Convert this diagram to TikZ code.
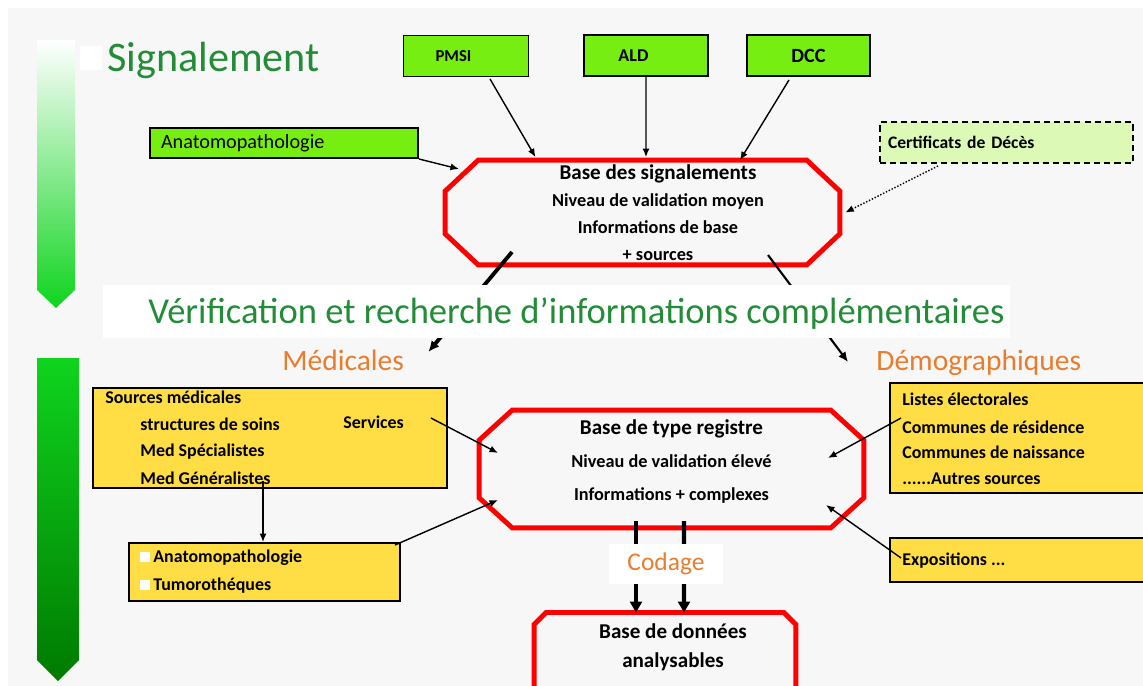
\documentclass[tikz,border=0pt]{standalone}
\usepackage{fontspec}
\setmainfont{Carlito}
\usetikzlibrary{calc,arrows.meta}

\definecolor{titlegreen}{RGB}{35,140,55}
\definecolor{srcgreen}{RGB}{118,238,18}
\definecolor{palegreen}{RGB}{220,250,182}
\definecolor{boxyellow}{RGB}{255,221,68}
\definecolor{labelorange}{RGB}{232,125,45}
\definecolor{arrowgreen}{RGB}{15,212,30}
\definecolor{midgreen}{RGB}{0,138,0}
\definecolor{darkarrow}{RGB}{0,122,0}
\definecolor{backgray}{RGB}{247,247,247}

\tikzset{
  srcbox/.style={draw=black,line width=1.1pt,fill=srcgreen,inner sep=0pt,font=\bfseries\fontsize{9.5}{11}\selectfont},
  octo/.style={inner sep=0pt},
  octoline/.style={draw=red,line width=2.8pt,line join=miter},
  yelbox/.style={draw=black,line width=1.1pt,fill=boxyellow,inner sep=0pt},
  itemtxt/.style={anchor=west,inner sep=0pt,font=\bfseries\fontsize{10.2}{12}\selectfont},
  basetxt/.style={align=center,inner sep=0pt,font=\bfseries\fontsize{10.4}{15.4}\selectfont},
  conn/.style={line width=0.8pt,-{Latex[length=1.7mm,width=1.4mm]}},
  headtxt/.style={anchor=base west,inner sep=0pt,text=titlegreen},
  subtxt/.style={anchor=base west,inner sep=0pt,text=labelorange,font=\fontsize{16.8}{19}\selectfont},
}

% red border with cut corners round a named node
\newcommand{\cutcorners}[3]{%
  \draw[octoline] ($(#1.north west)+(#2,0)$) -- ($(#1.north east)+(-#2,0)$)
    -- ($(#1.north east)+(0,#3)$) -- ($(#1.south east)+(0,-#3)$)
    -- ($(#1.south east)+(-#2,0)$) -- ($(#1.south west)+(#2,0)$)
    -- ($(#1.south west)+(0,-#3)$) -- ($(#1.north west)+(0,#3)$) -- cycle;}

\begin{document}
\begin{tikzpicture}[x=0.02cm,y=-0.02cm]
\useasboundingbox (0,0) rectangle (1143,686);
% background
\fill[backgray] (8,8) rectangle (1143,686);
\fill[white] (80,46) rectangle (102,70);
% the two green arrows on the left
\shade[top color=white,bottom color=arrowgreen] (37,40) -- (75,40) -- (75,290) -- (56,308) -- (37,290) -- cycle;
\shade[top color=arrowgreen,middle color=midgreen,bottom color=darkarrow] (37,358) -- (79,358) -- (79,660) -- (58,681) -- (37,660) -- cycle;

\node[headtxt,font=\fontsize{24}{28}\selectfont] (signal) at (107,72) {Signalement};

% sources
\node[srcbox,minimum width=2.5cm,minimum height=0.82cm] (pmsi) at (466,56) {PMSI\hspace*{0.5cm}};
\node[srcbox,minimum width=2.48cm,minimum height=0.82cm,font=\bfseries\fontsize{10.3}{12}\selectfont] (ald) at (646,55.5) {ALD\hspace*{0.5cm}};
\node[srcbox,minimum width=2.46cm,minimum height=0.82cm,font=\bfseries\fontsize{11.5}{13}\selectfont] (dcc) at (808.5,55.5) {DCC};
\node[srcbox,font=\fontsize{11.5}{13}\selectfont,text width=4.92cm,inner xsep=0.22cm,minimum height=0.6cm,align=left] (anat) at (284,143) {Anatomopathologie};
\node[srcbox,fill=palegreen,dash pattern=on 3.5pt off 2.3pt,font=\bfseries\fontsize{10}{12}\selectfont,text width=4.74cm,inner xsep=0.16cm,minimum height=0.82cm,align=left] (cert) at (1006.5,142.5) {Certificats de Décès};

% base des signalements
\node[octo,minimum width=7.88cm,minimum height=2.08cm] (sigbase) at (642.5,212.5) {};
\cutcorners{sigbase}{33}{31}
\node[basetxt] (sigtxt) at (658,212.5) {{\fontsize{12}{15.4}\selectfont Base des signalements}\\Niveau de validation moyen\\Informations de base\\+ sources};

\draw[conn] ($(pmsi.south)+(24,1.5)$) -- ($(sigbase.north)+(-107,-3)$);
\draw[conn] (ald.south) -- ($(sigbase.north)+(3.5,-3)$);
\draw[conn] ($(dcc.south)+(-19.5,3)$) -- ($(sigbase.north)+(97.5,0)$);
\draw[conn] (anat.south east) -- ($(sigbase)+(-183.5,-43.5)$);
\draw[conn,densely dotted] ($(cert.south)+(-68.5,2)$) -- ($(sigbase.east)+(5.5,0)$);

\node[subtxt] (medicales) at (282,370) {Médicales};
\node[subtxt] (demo) at (876,370) {Démographiques};

\draw[line width=2.2pt,-{Latex[length=2.2mm,width=2mm]}] ($(sigbase)+(-130.5,39.5)$) -- ($(medicales.base east)+(24,-18)$);
\draw[line width=1.2pt,-{Latex[length=2mm,width=1.8mm]}] ($(sigbase)+(125.5,42.5)$) -- ($(demo.base west)+(-28,-8)$);

% band of the second step
\fill[white] (103,285) rectangle (1010,338);
\node[headtxt,font=\fontsize{20.8}{24}\selectfont] (verif) at (148,323) {Vérification et recherche d’informations complémentaires};

% base de type registre
\node[octo,minimum width=7.68cm,minimum height=2.34cm] (regbase) at (671.5,469) {};
\cutcorners{regbase}{33}{30}
\node[basetxt,font=\bfseries\fontsize{10.4}{18.8}\selectfont] (regtxt) at (671.5,461.5) {{\fontsize{12}{18.8}\selectfont Base de type registre}\\Niveau de validation élevé\\Informations + complexes};

% medical sources
\node[yelbox,minimum width=7.08cm,minimum height=2cm] (medbox) at (270,438) {};
\node[itemtxt] (src) at (105,397) {Sources médicales};
\node[itemtxt] (soins) at (140,424) {structures de soins};
\node[itemtxt] (serv) at (343,422) {Services};
\node[itemtxt] (spec) at (140,452) {Med Spécialistes};
\node[itemtxt] (gen) at (140,478) {Med Généralistes};

\node[yelbox,minimum width=5.42cm,minimum height=1.16cm] (anabox) at (264.5,572) {};
\fill[white] (140,552) rectangle (150,562);
\fill[white] (140,580) rectangle (150,590);
\node[itemtxt] (anapath) at (153,558) {Anatomopathologie};
\node[itemtxt] (tumo) at (153,586) {Tumorothéques};

% demographic sources
\node[yelbox,minimum width=5.2cm,minimum height=2.2cm] (demobox) at (1020,438) {};
\node[itemtxt] (elect) at (902,399) {Listes électorales};
\node[itemtxt] (resid) at (902,427) {Communes de résidence};
\node[itemtxt] (naiss) at (902,452) {Communes de naissance};
\node[itemtxt] (autres) at (902,479) {......Autres sources};

\node[yelbox,minimum width=5.2cm,minimum height=0.88cm] (expobox) at (1020,560) {};
\node[itemtxt] (expo) at (902,561) {Expositions ...};

\draw[conn] ($(medbox.east)+(-17,-20)$) -- ($(regbase)+(-173.5,-16)$);
\draw[conn] ($(medbox.south)+(-7,-8)$) -- ($(anabox.north)+(-1.5,0)$);
\draw[conn] ($(anabox.north east)+(-6,3)$) -- ($(regbase)+(-173.5,31)$);
\draw[conn] ($(demobox.west)+(12,-20)$) -- ($(regbase)+(156.5,-11)$);
\draw[conn] ($(expobox.west)+(12,-2)$) -- ($(regbase)+(154.5,36)$);

% base de donnees
\node[octo,minimum width=5.22cm,minimum height=2cm,anchor=north] (dbbase) at (665,612.5) {};
\cutcorners{dbbase}{12}{12}
\node[basetxt,font=\bfseries\fontsize{12}{16.5}\selectfont] (dbtxt) at (673,647.5) {Base de données\\analysables};

\foreach \dx/\ex in {-35.5/-29, 12.5/19}
  \draw[line width=2.3pt,-{Triangle[length=2.2mm,width=2.4mm]}] ($(regbase)+(\dx,52)$) -- ($(dbbase.north)+(\ex,0)$);
\node[fill=white,minimum width=2.3cm,minimum height=0.8cm,text=labelorange,font=\fontsize{14.5}{17}\selectfont] (codage) at (666,564) {Codage};
\end{tikzpicture}
\end{document}
